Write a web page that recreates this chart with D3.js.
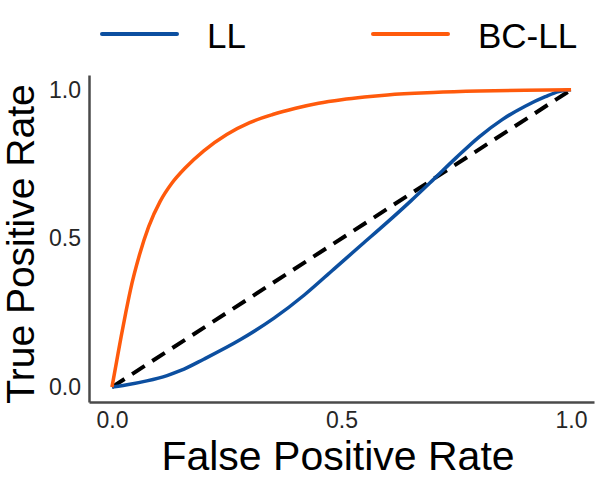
<!DOCTYPE html>
<html>
<head>
<meta charset="utf-8">
<script src="https://cdn.jsdelivr.net/npm/d3@7"></script>
<style>
  body { margin: 0; background: #fff; }
  svg { display: block; font-family: "Liberation Sans", Arial, sans-serif; }
</style>
</head>
<body>
<div id="roc-vis"></div>
<script>
// ROC curve points
const fprLL   = [0, 0.03, 0.076, 0.12, 0.15, 0.2, 0.28, 0.353, 0.419, 0.484, 0.543, 0.6, 0.65, 0.7, 0.75, 0.8, 0.85, 0.9, 0.944, 0.973, 1];
const tprLL   = [0, 0.007, 0.021, 0.039, 0.056, 0.094, 0.16, 0.232, 0.31, 0.398, 0.478, 0.555, 0.625, 0.698, 0.772, 0.842, 0.9, 0.945, 0.977, 0.994, 1];
const fprBCLL = [0, 0.01, 0.02, 0.03, 0.04, 0.06, 0.08, 0.105, 0.13, 0.16, 0.2, 0.25, 0.3, 0.35, 0.4, 0.45, 0.5, 0.55, 0.6, 0.7, 0.8, 0.9, 1];
const tprBCLL = [0, 0.085, 0.17, 0.25, 0.325, 0.445, 0.54, 0.625, 0.685, 0.738, 0.795, 0.85, 0.89, 0.917, 0.938, 0.955, 0.967, 0.976, 0.983, 0.991, 0.996, 0.999, 1];
const chance  = [0, 1];
const seriesNames  = ["LL", "BC-LL"];
const seriesColors = ["#0c4fa0", "#ff5a0c"];
const tickValues   = [0, 0.5, 1];

const width = 600, height = 481;

const svg = d3.select("#roc-vis").append("svg")
    .attr("width", width)
    .attr("height", height);

// ggplot style 5% expansion on both axes
const x = d3.scaleLinear().domain([-0.05, 1.05]).range([89, 594]);
const y = d3.scaleLinear().domain([-0.05, 1.05]).range([402, 75]);

const xAxis = svg.append("g")
    .attr("transform", "translate(0,402)")
    .call(d3.axisBottom(x).tickValues(tickValues).tickFormat(d3.format(".1f"))
        .tickSizeInner(0).tickSizeOuter(0).tickPadding(10));

const yAxis = svg.append("g")
    .attr("transform", "translate(89,0)")
    .call(d3.axisLeft(y).tickValues(tickValues).tickFormat(d3.format(".1f"))
        .tickSizeInner(0).tickSizeOuter(0).tickPadding(8));

[xAxis, yAxis].forEach(g => {
    g.select(".domain").attr("stroke", "#4a4a4a").attr("stroke-width", 2.5);
    g.selectAll("text")
        .attr("fill", "#262626")
        .style("font-size", "23px")
        .style("font-family", "\"Liberation Sans\", Arial, sans-serif");
});

const line = d3.line()
    .x(d => x(d[0]))
    .y(d => y(d[1]))
    .curve(d3.curveMonotoneX);

// diagonal reference
svg.append("path")
    .datum(d3.zip(chance, chance))
    .attr("d", d3.line().x(d => x(d[0])).y(d => y(d[1])))
    .attr("fill", "none")
    .attr("stroke", "#000")
    .attr("stroke-width", 4)
    .attr("stroke-dasharray", "15,9");

svg.append("path")
    .datum(d3.zip(fprLL, tprLL))
    .attr("d", line)
    .attr("fill", "none")
    .attr("stroke", seriesColors[0])
    .attr("stroke-width", 3.5);

svg.append("path")
    .datum(d3.zip(fprBCLL, tprBCLL))
    .attr("d", line)
    .attr("fill", "none")
    .attr("stroke", seriesColors[1])
    .attr("stroke-width", 3.5);

// axis titles
svg.append("text")
    .attr("x", 338).attr("y", 470)
    .attr("text-anchor", "middle")
    .style("font-size", "41px")
    .text("False Positive Rate");

svg.append("text")
    .attr("transform", "translate(34,244) rotate(-90)")
    .attr("text-anchor", "middle")
    .style("font-size", "39px")
    .text("True Positive Rate");

// legend
const legendX = [102, 373];
const legend = svg.append("g").selectAll("g")
    .data(seriesNames)
    .join("g")
    .attr("transform", (d, i) => `translate(${legendX[i]},34)`);

legend.append("line")
    .attr("x1", 0).attr("x2", 75)
    .attr("stroke", (d, i) => seriesColors[i])
    .attr("stroke-width", 4)
    .attr("stroke-linecap", "round");

legend.append("text")
    .attr("x", 105)
    .attr("y", 14)
    .style("font-size", "35px")
    .text(d => d);
</script>
</body>
</html>
